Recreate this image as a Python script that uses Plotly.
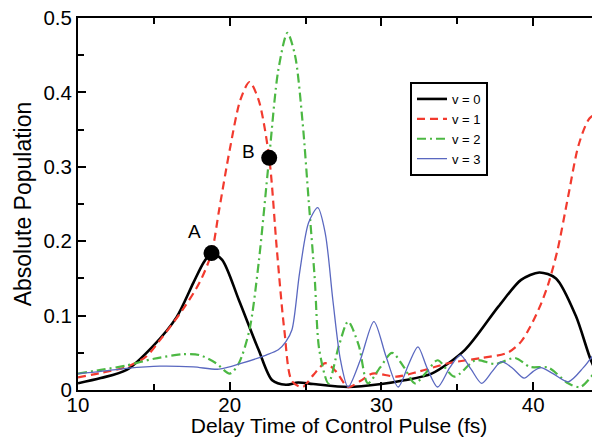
import plotly.graph_objects as go

# v = 0
black_x = [10, 11.5, 13.2, 14.9, 16.5, 17.6, 18.3, 18.8, 19.5, 20.6, 21.9, 22.8, 23.7, 24.5, 25.5,
           27.8, 30, 31.5, 33.3, 35.5, 37.7, 39.2, 40.4, 41.5, 42.8, 43.8, 44.4]
black_y = [0.009, 0.016, 0.027, 0.058, 0.098, 0.144, 0.172, 0.184, 0.175, 0.121, 0.054, 0.013, 0.007,
           0.01, 0.008, 0.004, 0.008, 0.013, 0.022, 0.054, 0.112, 0.148, 0.158, 0.15, 0.1, 0.04, 0.015]

# v = 1
red_x = [10, 11.5, 13.2, 14.5, 15.4, 16.9, 18, 18.8, 19.3, 20, 20.7, 21.3, 21.9, 22.6, 23.1, 23.6,
         24.1, 24.8, 25.5, 26.3, 27, 27.8, 28.6, 29.4, 31, 32.5, 34.4, 36.6, 38.3, 39.2, 39.8, 40.5,
         41, 41.6, 42.3, 43, 43.7, 44.4]
red_y = [0.017, 0.023, 0.031, 0.045, 0.067, 0.108, 0.144, 0.184, 0.242, 0.323, 0.39, 0.414, 0.39,
         0.312, 0.19, 0.08, 0.012, 0.004, 0.02, 0.036, 0.025, 0.004, 0.012, 0.022, 0.018, 0.025,
         0.036, 0.043, 0.05, 0.065, 0.085, 0.115, 0.143, 0.188, 0.26, 0.33, 0.365, 0.375]

# v = 2
green_x = [10, 11.5, 13.2, 15, 16.9, 18, 19.1, 20, 20.6, 21.3, 21.9, 22.6, 23.2, 23.8, 24.3, 24.8,
           25.2, 25.6, 25.9, 26.5, 27.2, 27.8, 28.5, 29.1, 29.9, 30.7, 31.5, 32.2, 33, 33.7, 34.8,
           36.2, 37.5, 38.8, 39.8, 41, 42.3, 43.1, 44, 44.4]
green_y = [0.022, 0.027, 0.033, 0.042, 0.048, 0.047, 0.036, 0.022, 0.036, 0.081, 0.17, 0.313, 0.43,
           0.48, 0.45, 0.36, 0.255, 0.15, 0.054, 0.009, 0.06, 0.092, 0.06, 0.009, 0.03, 0.05, 0.03,
           0.009, 0.025, 0.04, 0.018, 0.04, 0.035, 0.043, 0.031, 0.03, 0.009, 0.004, 0.022, 0.03]

# v = 3
blue_x = [10, 11.5, 13.2, 15.4, 17.6, 19.3, 20.8, 22.4, 23.2, 23.7, 24.1, 24.6, 25.2, 25.8, 26.3,
          26.8, 27.3, 27.8, 28.6, 29.5, 30.3, 31.1, 31.8, 32.4, 33, 33.7, 34.5, 35.2, 35.9, 36.6,
          37.3, 37.9, 38.6, 39.4, 40, 40.5, 41.3, 42.3, 43.3, 44.4]
blue_y = [0.022, 0.025, 0.029, 0.032, 0.031, 0.028, 0.036, 0.047, 0.054, 0.065, 0.081, 0.157, 0.225,
          0.245, 0.21, 0.12, 0.04, 0.004, 0.04, 0.092, 0.045, 0.004, 0.035, 0.058, 0.03, 0.004,
          0.03, 0.047, 0.028, 0.009, 0.025, 0.038, 0.03, 0.016, 0.025, 0.03, 0.022, 0.011, 0.03, 0.06]

point_labels = ["A", "B"]
point_x = [18.8, 22.6]
point_y = [0.184, 0.312]
label_shift = [(-17, 22), (-21, 6)]

font = "Liberation Sans, Arial, sans-serif"

fig = go.Figure()
series = [
    ("v = 0", black_x, black_y, "black", "solid", 2.6),
    ("v = 1", red_x, red_y, "#f23a2e", "8px,5px", 2.2),
    ("v = 2", green_x, green_y, "#4cb843", "9px,4px,2px,4px", 2.2),
    ("v = 3", blue_x, blue_y, "#5a68c0", "solid", 1.3),
]
for name, xs, ys, color, dash, width in series:
    fig.add_trace(go.Scatter(
        x=xs, y=ys, name=name, mode="lines",
        line=dict(color=color, dash=dash, width=width, shape="spline", smoothing=0.8),
    ))

fig.add_trace(go.Scatter(
    x=point_x, y=point_y, mode="markers", showlegend=False,
    marker=dict(color="black", size=16),
))
for lab, px_, py_, (dx, dy) in zip(point_labels, point_x, point_y, label_shift):
    fig.add_annotation(x=px_, y=py_, text=lab, showarrow=False,
                       xshift=dx, yshift=dy, font=dict(size=19, color="black", family=font))

# page body adds an 8px offset, so the figure is sized 592x429
fig.update_layout(
    width=592, height=429,
    margin=dict(l=70, r=0, t=10, b=47),
    paper_bgcolor="white", plot_bgcolor="white",
    font=dict(family=font, color="black", size=20),
    legend=dict(
        x=0.636, y=0.828, xanchor="left", yanchor="top",
        bordercolor="black", borderwidth=2, bgcolor="white",
        font=dict(size=13), tracegroupgap=0, itemwidth=30,
    ),
)
fig.update_xaxes(
    range=[10, 44.4], tickvals=[10, 20, 30, 40],
    showgrid=False, zeroline=False,
    showline=True, linecolor="black", linewidth=2, mirror="ticks",
    ticks="inside", ticklen=8, tickwidth=2, tickcolor="black",
    minor=dict(dtick=5, tick0=10, ticks="inside", ticklen=6, tickwidth=2, tickcolor="black"),
    title=dict(text="Delay Time of Control Pulse (fs)", font=dict(size=21), standoff=2),
    tickfont=dict(size=20.5), ticklabelstandoff=-5, ticklabeloverflow="allow",
    automargin=False,
)
fig.update_yaxes(
    range=[0, 0.5], tickvals=[0, 0.1, 0.2, 0.3, 0.4, 0.5],
    ticktext=["0", "0.1", "0.2", "0.3", "0.4", "0.5"],
    showgrid=False, zeroline=False,
    showline=True, linecolor="black", linewidth=2, mirror="ticks",
    ticks="inside", ticklen=8, tickwidth=2, tickcolor="black",
    minor=dict(dtick=0.05, ticks="inside", ticklen=6, tickwidth=2, tickcolor="black"),
    title=dict(text="Absolute Population", font=dict(size=23), standoff=5),
    tickfont=dict(size=20.5), ticklabeloverflow="allow",
    automargin=False,
)

fig.write_html("out.html")
